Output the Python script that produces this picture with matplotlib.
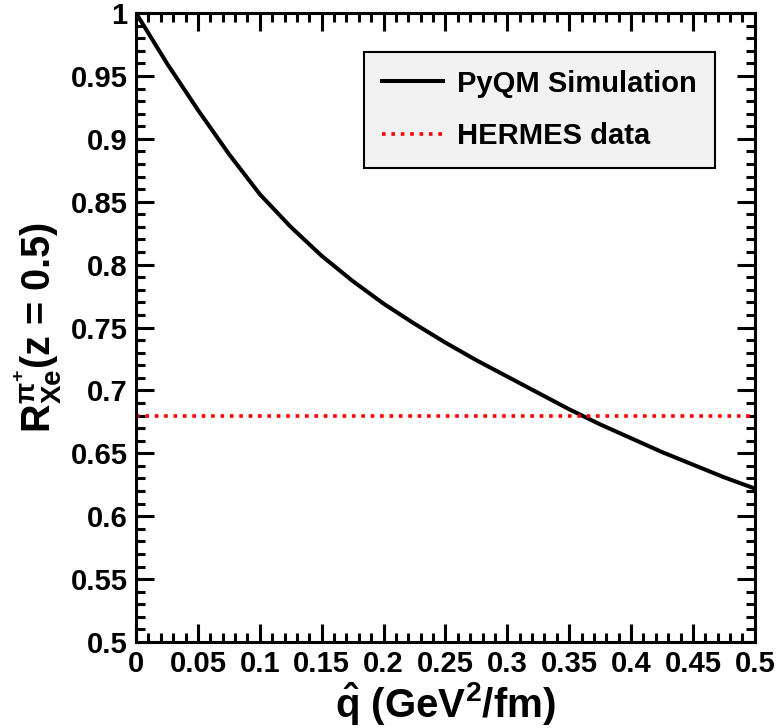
import numpy as np
import matplotlib
matplotlib.use("Agg")
import matplotlib.pyplot as plt
from matplotlib.ticker import MultipleLocator

# ── data ──────────────────────────────────────────────────────────────────────
qhat = [0.0, 0.025, 0.05, 0.075, 0.1, 0.125, 0.15, 0.175, 0.2, 0.225, 0.25,
        0.275, 0.3, 0.325, 0.35, 0.375, 0.4, 0.425, 0.45, 0.475, 0.5]
r_sim = [1.0, 0.960, 0.923, 0.888, 0.856, 0.830, 0.807, 0.787, 0.769, 0.753,
         0.738, 0.724, 0.711, 0.698, 0.685, 0.673, 0.662, 0.651, 0.641, 0.631,
         0.622]
hermes = 0.68

# ── ROOT-ish style ────────────────────────────────────────────────────────────
plt.rcParams["font.family"] = ["Liberation Sans", "DejaVu Sans"]
plt.rcParams["font.weight"] = "bold"
plt.rcParams["axes.labelweight"] = "bold"
plt.rcParams["mathtext.fontset"] = "custom"
plt.rcParams["mathtext.rm"] = "Liberation Sans:bold"
plt.rcParams["mathtext.bf"] = "Liberation Sans:bold"
plt.rcParams["mathtext.it"] = "Liberation Sans:bold"

fig = plt.figure(figsize=(7.79, 7.28), dpi=100)
ax = fig.add_axes([0.1746, 0.1181, 0.7944, 0.8640])

ax.plot(qhat, r_sim, color="black", linewidth=2.9, solid_joinstyle="round",
        label="PyQM Simulation")
ax.axhline(hermes, color="#ff0000", linewidth=2.6, linestyle=(0, (1.0, 1.6)),
           dash_capstyle="butt", label="HERMES data")

ax.set_xlim(0, 0.5)
ax.set_ylim(0.5, 1.0)
ax.xaxis.set_major_locator(MultipleLocator(0.05))
ax.xaxis.set_minor_locator(MultipleLocator(0.01))
ax.yaxis.set_major_locator(MultipleLocator(0.05))
ax.yaxis.set_minor_locator(MultipleLocator(0.01))

def fmt(v, _):
    return f"{v:.2f}".rstrip("0").rstrip(".")

ax.xaxis.set_major_formatter(fmt)
ax.yaxis.set_major_formatter(fmt)

ax.tick_params(which="both", direction="in", top=True, right=True, width=2.2,
               labelsize=21, pad=6)
ax.tick_params(which="major", length=13)
ax.tick_params(which="minor", length=6.5)
for sp in ax.spines.values():
    sp.set_linewidth(2.2)

ax.set_xlabel(r"$\hat{\mathrm{q}}$ (GeV$^{2}$/fm)", fontsize=29, labelpad=1)
ax.set_ylabel(r"R$^{\pi^{+}}_{\mathrm{Xe}}$(z = 0.5)", fontsize=28.5, labelpad=5)

leg = ax.legend(loc="upper right", bbox_to_anchor=(0.935, 0.938),
                borderaxespad=0, fontsize=21, handlelength=2.1,
                handletextpad=0.5, labelspacing=0.85, borderpad=0.6,
                fancybox=False, framealpha=1)
leg.get_frame().set_facecolor("#f2f2f2")
leg.get_frame().set_edgecolor("black")
leg.get_frame().set_linewidth(1.5)

fig.savefig("out.png", dpi=100)
